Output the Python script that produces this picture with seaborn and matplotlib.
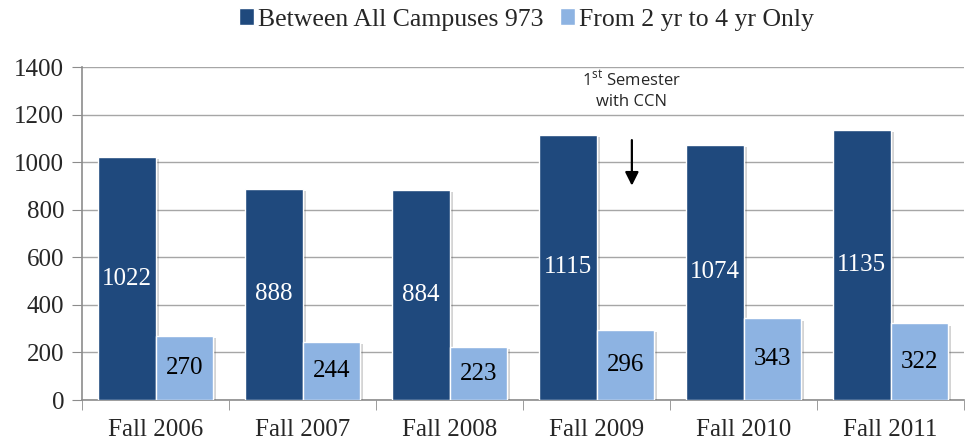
import numpy as np
import pandas as pd
import matplotlib
matplotlib.use('Agg')
import matplotlib.pyplot as plt
import matplotlib.patheffects as pe
import seaborn as sns

# Data
terms = ['Fall 2006', 'Fall 2007', 'Fall 2008', 'Fall 2009', 'Fall 2010', 'Fall 2011']
between_all = [1022, 888, 884, 1115, 1074, 1135]
two_to_four = [270, 244, 223, 296, 343, 322]
series_names = ['Between All Campuses 973', 'From 2 yr to 4 yr Only']
colors = ['#1F497D', '#8DB3E2']

df = pd.DataFrame({
    'term': terms * 2,
    'count': between_all + two_to_four,
    'series': [series_names[0]] * len(terms) + [series_names[1]] * len(terms),
})

sns.set_style('white')
plt.rcParams['font.family'] = ['Liberation Serif', 'DejaVu Serif']

fig = plt.figure(figsize=(9.66, 4.42), dpi=100)
ax = fig.add_axes([0.085, 0.095, 0.913, 0.753])

sns.barplot(data=df, x='term', y='count', hue='series', palette=colors,
            saturation=1, width=0.78, ax=ax, zorder=3)

# value labels in the middle of each bar
for cont, txtcol in zip(ax.containers, ['white', 'black']):
    ax.bar_label(cont, label_type='center', color=txtcol, fontsize=18)

ax.set_ylim(0, 1400)
ax.set_xlim(-0.5, len(terms) - 0.5)
ax.set_yticks(np.arange(0, 1401, 200))
ax.grid(axis='y', color='#a6a6a6', linewidth=1, zorder=0)
ax.set_xlabel('')
ax.set_ylabel('')
ax.tick_params(axis='y', labelsize=18, length=7, color='#8c8c8c', direction='out', left=True, pad=6)
ax.tick_params(axis='x', which='major', labelsize=18, length=0, pad=14)
ax.set_xticks(np.arange(-0.5, len(terms), 1), minor=True)
ax.tick_params(axis='x', which='minor', length=7, color='#8c8c8c', direction='out', bottom=True)
for s in ['top', 'right']:
    ax.spines[s].set_visible(False)
for s in ['left', 'bottom']:
    ax.spines[s].set_color('#8c8c8c')
    ax.spines[s].set_linewidth(1.2)

# annotation
ax.text(3.24, 1305, '1$^{\\mathregular{st}}$ Semester\nwith CCN', ha='center', va='center',
        fontsize=12, family=['Open Sans', 'DejaVu Sans'], linespacing=1.3)
ax.annotate('', xy=(3.24, 890), xytext=(3.24, 1105),
            arrowprops=dict(arrowstyle='-|>', color='black', lw=1.6, mutation_scale=20))

ax.legend(loc='lower center', bbox_to_anchor=(0.504, 1.11), ncol=2, frameon=False,
          fontsize=18.5, handlelength=0.58, handleheight=0.6, handletextpad=0.15,
          columnspacing=0.66, borderaxespad=0, borderpad=0)

# soft bar shadows (after the legend so the handles stay flat)
for p in ax.patches:
    p.set_path_effects([pe.SimplePatchShadow(offset=(2.5, -1.5), alpha=0.25, shadow_rgbFace='#555555'),
                        pe.Normal()])

fig.savefig('out.png', dpi=100)
